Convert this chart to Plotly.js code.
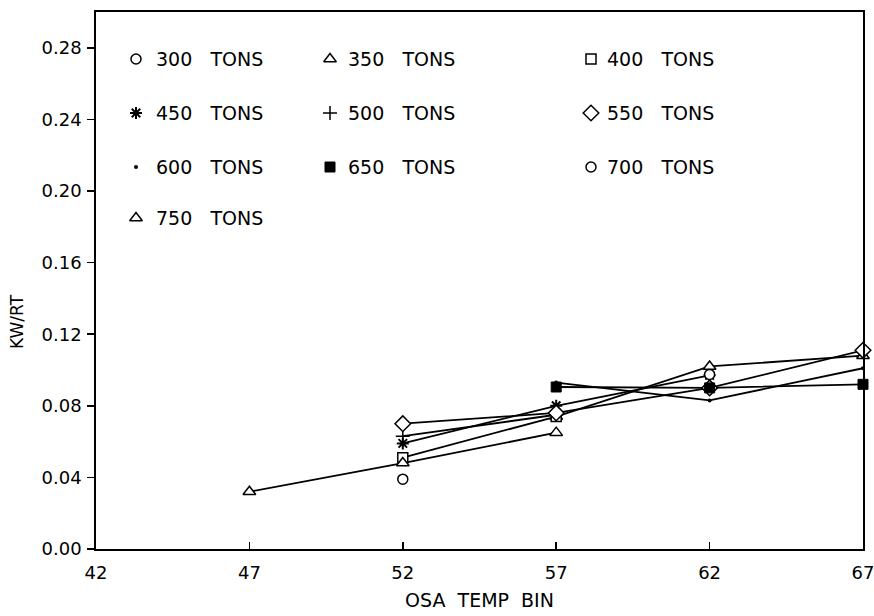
<!DOCTYPE html>
<html>
<head>
<meta charset="utf-8">
<script src="https://cdn.plot.ly/plotly-3.0.1.min.js"></script>
<style>html,body{margin:0;padding:0;background:#fff;}#chart{width:874px;height:616px;}</style>
</head>
<body>
<div id="chart"></div>
<script>
// ---- data ----
const temps = [47, 52, 57, 62, 67];
const seriesNames = ["300 TONS","350 TONS","400 TONS","450 TONS","500 TONS","550 TONS","600 TONS","650 TONS","700 TONS","750 TONS"];
const kw300 = [null, 0.039, null,   null,   null];
const kw350 = [null, null,  0.074,  0.102,  0.108];
const kw400 = [null, 0.051, 0.074,  null,   null];
const kw450 = [null, 0.059, 0.080,  0.097,  null];
const kw500 = [null, 0.063, 0.075,  null,   null];
const kw550 = [null, 0.070, 0.076,  0.090,  0.111];
const kw600 = [null, null,  0.093,  0.083,  0.101];
const kw650 = [null, null,  0.0905, 0.090,  0.092];
const kw700 = [null, null,  null,   0.0975, null];
const kw750 = [0.032, 0.048, 0.065, null,   null];
const xTicks = [42, 47, 52, 57, 62, 67];
const yTicks = [0.00, 0.04, 0.08, 0.12, 0.16, 0.20, 0.24, 0.28];

const seriesValues = [kw300, kw350, kw400, kw450, kw500, kw550, kw600, kw650, kw700, kw750];

// ---- styles ----
const markerStyles = [
  {symbol: "circle", size: 10, color: "#fff", line: {color: "#000", width: 1.5}},
  {symbol: "triangle-up", size: 11, color: "#fff", line: {color: "#000", width: 1.5}},
  {symbol: "square", size: 10, color: "#fff", line: {color: "#000", width: 1.5}},
  {symbol: "asterisk-open", size: 10, color: "#000", line: {color: "#000", width: 2}},
  {symbol: "cross-thin-open", size: 10, color: "#000", line: {color: "#000", width: 1.5}},
  {symbol: "diamond", size: 12, color: "#fff", line: {color: "#000", width: 1.5}},
  {symbol: "circle", size: 4, color: "#000", line: {color: "#000", width: 0}},
  {symbol: "square", size: 10, color: "#000", line: {color: "#000", width: 1}},
  {symbol: "circle", size: 10, color: "#fff", line: {color: "#000", width: 1.5}},
  {symbol: "triangle-up", size: 11, color: "#fff", line: {color: "#000", width: 1.5}}
];

const W = 874, H = 616;
const M = {l: 96, r: 11, t: 12, b: 67};
const plotW = W - M.l - M.r, plotH = H - M.t - M.b;
const px2x = p => (p - M.l) / plotW;
const px2y = p => (H - M.b - p) / plotH;

// legend layout (pixel positions)
const legMarkerX = [136, 330, 591];
const legTextX = [154, 346, 605];
const legRowY = [59, 113, 167, 218];

const traces = [];
seriesValues.forEach((vals, i) => {
  traces.push({
    x: temps, y: vals, type: "scatter", mode: "lines",
    line: {color: "#000", width: 1.8}, showlegend: false, hoverinfo: "skip",
    connectgaps: false, name: seriesNames[i]
  });
});
seriesValues.forEach((vals, i) => {
  traces.push({
    x: temps, y: vals, type: "scatter", mode: "markers",
    marker: markerStyles[i], showlegend: false, name: seriesNames[i], cliponaxis: false
  });
});

const annotations = [];
seriesNames.forEach((nm, i) => {
  const col = i % 3, row = Math.floor(i / 3);
  traces.push({
    x: [px2x(legMarkerX[col])], y: [px2y(legRowY[row])],
    xaxis: "x2", yaxis: "y2", type: "scatter", mode: "markers",
    marker: markerStyles[i], showlegend: false, hoverinfo: "skip", cliponaxis: false
  });
  const parts = nm.split(" ");
  annotations.push({
    xref: "paper", yref: "paper", x: px2x(legTextX[col]), y: px2y(legRowY[row]),
    xanchor: "left", yanchor: "middle", showarrow: false,
    text: parts[0] + "   " + parts[1],
    font: {family: "DejaVu Sans", size: 19, color: "#000"}
  });
});

annotations.push({
  xref: "paper", yref: "paper", x: px2x(17), y: px2y(322),
  xanchor: "center", yanchor: "middle", showarrow: false, textangle: -90,
  text: "KW/RT", font: {family: "DejaVu Sans", size: 17, color: "#000"}
});

const layout = {
  width: W, height: H,
  margin: M,
  paper_bgcolor: "#fff", plot_bgcolor: "#fff",
  font: {family: "DejaVu Sans", size: 18, color: "#000"},
  showlegend: false,
  xaxis: {
    range: [42, 67], tickvals: xTicks, ticktext: xTicks.map(String),
    ticks: "inside", ticklen: 7, tickwidth: 1.5, tickcolor: "#000",
    ticklabelstandoff: 7, ticklabeloverflow: "allow",
    showline: true, linecolor: "#000", linewidth: 1.8, mirror: true,
    showgrid: false, zeroline: false,
    title: {text: "OSA  TEMP  BIN", font: {size: 19}, standoff: 11}
  },
  yaxis: {
    range: [0, 0.30], tickvals: yTicks, ticktext: yTicks.map(v => v.toFixed(2)),
    ticks: "outside", ticklen: 7, tickwidth: 1.5, tickcolor: "#000",
    ticklabelstandoff: 2,
    showline: true, linecolor: "#000", linewidth: 1.8, mirror: true,
    showgrid: false, zeroline: false
  },
  xaxis2: {overlaying: "x", range: [0, 1], visible: false, anchor: "y2"},
  yaxis2: {overlaying: "y", range: [0, 1], visible: false, anchor: "x2"},
  annotations: annotations
};

Plotly.newPlot("chart", traces, layout, {staticPlot: true});
</script>
</body>
</html>
